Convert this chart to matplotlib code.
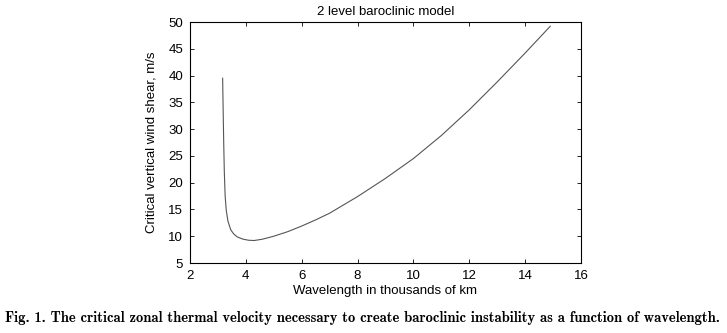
import matplotlib.pyplot as plt

# critical shear curve
wavelength = [3.17, 3.19, 3.21, 3.23, 3.26, 3.30, 3.36, 3.46, 3.57, 3.70,
              3.90, 4.10, 4.30, 4.60, 5.00, 5.50, 6.00, 6.50, 7.00, 8.00,
              9.00, 10.00, 11.00, 12.00, 13.00, 14.00, 14.90]
shear = [39.5, 33.0, 27.0, 22.0, 17.5, 14.8, 12.8, 11.2, 10.4, 9.85,
         9.45, 9.25, 9.2, 9.45, 10.0, 10.85, 11.9, 13.05, 14.3, 17.4,
         20.8, 24.5, 28.8, 33.6, 38.8, 44.2, 49.2]

xticks = [2, 4, 6, 8, 10, 12, 14, 16]
yticks = [5, 10, 15, 20, 25, 30, 35, 40, 45, 50]


def main():
    plt.rcParams['font.family'] = ['Liberation Sans', 'DejaVu Sans']
    fig = plt.figure(figsize=(7.27, 3.33), dpi=100)
    ax = fig.add_axes([0.2613, 0.2102, 0.5378, 0.7237])

    ax.plot(wavelength, shear, color='#555555', lw=0.8)

    ax.set_xlim(2, 16)
    ax.set_ylim(5, 50)
    ax.set_xticks(xticks)
    ax.set_yticks(yticks)
    ax.tick_params(direction='in', top=True, right=True, length=3,
                   width=0.6, labelsize=9.5, pad=5)
    for s in ax.spines.values():
        s.set_linewidth(0.8)

    ax.set_title('2 level baroclinic model', fontsize=9.5, pad=5)
    ax.set_xlabel('Wavelength in thousands of km', fontsize=9.5, labelpad=2)
    ax.set_ylabel('Critical vertical wind shear, m/s', fontsize=9.5, labelpad=8)

    fig.text(0.007, 0.045,
             'Fig. 1. The critical zonal thermal velocity necessary to create '
             'baroclinic instability as a function of wavelength.',
             family=['cmb10', 'DejaVu Serif'], fontsize=10.5, ha='left',
             va='center')

    fig.savefig('out.png', dpi=100)


if __name__ == '__main__':
    main()
